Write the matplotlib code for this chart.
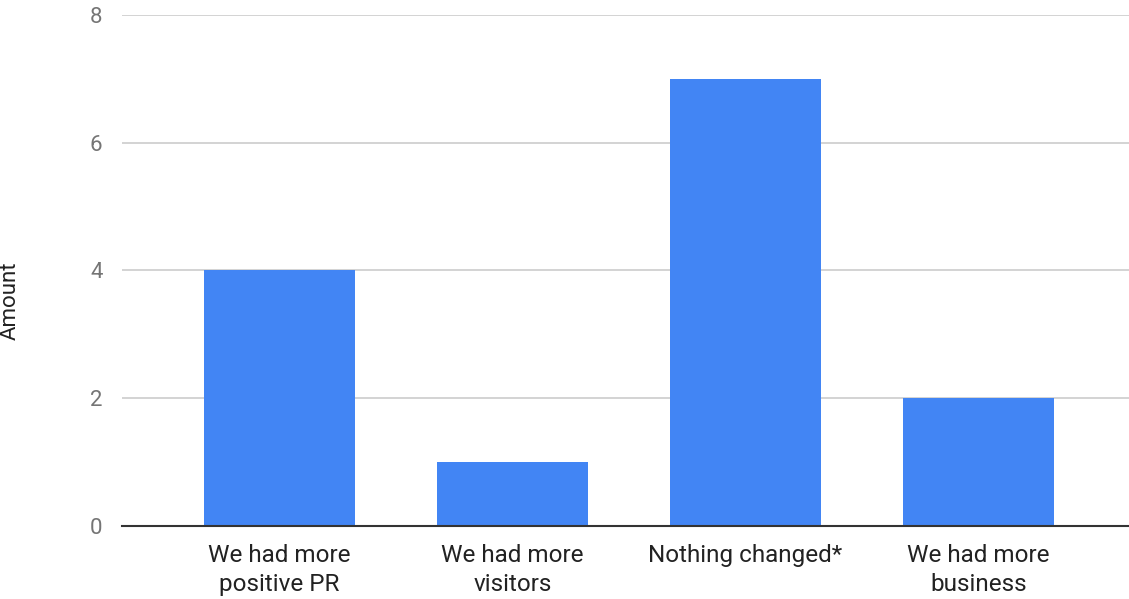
import matplotlib
matplotlib.use("Agg")
from matplotlib import pyplot as plt

categories = ["We had more\npositive PR", "We had more\nvisitors", "Nothing changed*", "We had more\nbusiness"]
amounts = [4, 1, 7, 2]
yticks = [0, 2, 4, 6, 8]

plt.rcParams["font.family"] = ["Roboto", "DejaVu Sans"]

fig = plt.figure(figsize=(11.29, 5.99), dpi=100)
ax = fig.add_axes([0.108, 0.122, 0.892, 0.853])

x = list(range(len(categories)))
ax.bar(x, amounts, width=0.65, color="#4285F4", zorder=2)

ax.set_xlim(-0.677, 3.647)
ax.set_ylim(0, 8)
ax.set_yticks(yticks)
ax.set_yticklabels([str(v) for v in yticks])
ax.set_xticks(x)
ax.set_xticklabels(categories, fontsize=17.5, color="#222222", linespacing=1.35)

ax.grid(axis="y", color="#cccccc", linewidth=1.2, zorder=0)
for s in ["top", "right", "left"]:
    ax.spines[s].set_visible(False)
ax.spines["bottom"].set_color("#333333")
ax.spines["bottom"].set_linewidth(1.5)
ax.spines["bottom"].set_zorder(3)

ax.tick_params(axis="y", length=0, labelsize=16, labelcolor="#757575", pad=14)
ax.tick_params(axis="x", length=0, pad=13)

ax.set_ylabel("Amount", fontsize=16, color="#222222")
ax.yaxis.set_label_coords(-0.1, 0.44)

fig.savefig("out.png", dpi=100)
